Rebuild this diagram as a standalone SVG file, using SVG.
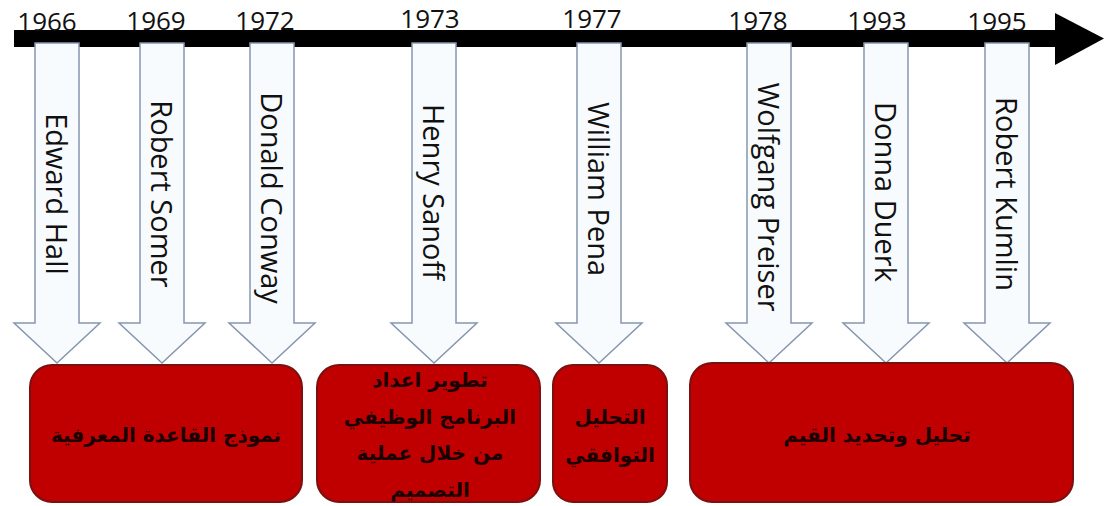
<svg xmlns="http://www.w3.org/2000/svg" width="1105" height="506" viewBox="0 0 1105 506">
<style>
.year{font-family:"Open Sans","Liberation Sans",sans-serif;font-size:26px;fill:#111;text-anchor:middle}
.arr{fill:#f8fbfe;stroke:#8696ae;stroke-width:1.5}
.name{font-family:"Open Sans","Liberation Sans",sans-serif;font-size:29px;fill:#111;text-anchor:middle}
.box{fill:#c00000;stroke:#7a1010;stroke-width:2}
.ar{font-family:"DejaVu Sans","Noto Sans",sans-serif;font-size:20px;font-weight:bold;fill:#1a0000;text-anchor:middle}
</style>
<rect width="1105" height="506" fill="#ffffff"/>
<g id="timeline">
<rect x="14" y="30" width="1045" height="17" fill="#000"/>
<polygon points="1055,13 1104,38.5 1055,65" fill="#000"/>
<text class="year" x="47" y="31">1966</text>
<text class="year" x="156" y="30">1969</text>
<text class="year" x="265" y="30">1972</text>
<text class="year" x="430" y="28">1973</text>
<text class="year" x="592" y="28">1977</text>
<text class="year" x="758" y="30">1978</text>
<text class="year" x="877" y="30">1993</text>
<text class="year" x="997" y="31">1995</text>
</g>
<g id="connectors">
<path class="arr" d="M35,43 H79 V323 H100 L57,363 L14,323 H35 Z"/>
<path class="arr" d="M140,43 H184 V323 H205 L162,363 L119,323 H140 Z"/>
<path class="arr" d="M250,43 H294 V323 H315 L272,363 L229,323 H250 Z"/>
<path class="arr" d="M412,43 H456 V323 H477 L434,363 L391,323 H412 Z"/>
<path class="arr" d="M577,43 H621 V323 H642 L599,363 L556,323 H577 Z"/>
<path class="arr" d="M747,43 H791 V323 H812 L769,363 L726,323 H747 Z"/>
<path class="arr" d="M864,43 H908 V323 H929 L886,363 L843,323 H864 Z"/>
<path class="arr" d="M985,43 H1029 V323 H1050 L1007,363 L964,323 H985 Z"/>
</g>
<g id="names">
<text class="name" transform="translate(57,194) rotate(90)" y="11">Edward Hall</text>
<text class="name" transform="translate(162,194) rotate(90)" y="11">Robert Somer</text>
<text class="name" transform="translate(272,198) rotate(90)" y="11">Donald Conway</text>
<text class="name" transform="translate(434,192) rotate(90)" y="11">Henry Sanoff</text>
<text class="name" transform="translate(599,189) rotate(90)" y="11">William Pena</text>
<text class="name" transform="translate(769,197) rotate(90)" y="11">Wolfgang Preiser</text>
<text class="name" transform="translate(886,192) rotate(90)" y="11">Donna Duerk</text>
<text class="name" transform="translate(1007,194) rotate(90)" y="11">Robert Kumlin</text>
</g>
<g id="box1">
<rect class="box" x="30" y="365" width="272" height="137" rx="22"/>
<text class="ar" x="166" y="442" direction="rtl">نموذج القاعدة المعرفية</text>
</g>
<g id="box2">
<rect class="box" x="317" y="365" width="223" height="137" rx="22"/>
<text class="ar" x="430" y="387" direction="rtl">تطوير اعداد</text>
<text class="ar" x="430" y="424" direction="rtl">البرنامج الوظيفي</text>
<text class="ar" x="430" y="460" direction="rtl">من خلال عملية</text>
<text class="ar" x="430" y="497" direction="rtl">التصميم</text>
</g>
<g id="box3">
<rect class="box" x="553" y="365" width="114" height="137" rx="20"/>
<text class="ar" x="610" y="424" direction="rtl">التحليل</text>
<text class="ar" x="610" y="462" direction="rtl">التوافقي</text>
</g>
<g id="box4">
<rect class="box" x="690" y="363" width="383" height="139" rx="22"/>
<text class="ar" x="877" y="442" direction="rtl">تحليل وتحديد القيم</text>
</g>
</svg>
